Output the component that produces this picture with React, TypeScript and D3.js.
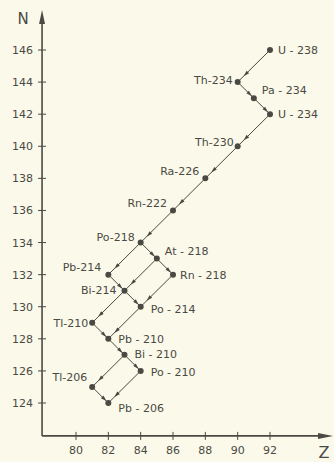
import * as d3 from "d3";

const W = 334;
const H = 462;

// nuclides of the U-238 decay series: [name, Z, N]
const names = ["U-238", "Th-234", "Pa-234", "U-234", "Th-230", "Ra-226", "Rn-222", "Po-218", "At-218", "Pb-214", "Rn-218", "Bi-214", "Po-214", "Tl-210", "Pb-210", "Bi-210", "Po-210", "Tl-206", "Pb-206"];
const zValues = [92, 90, 91, 92, 90, 88, 86, 84, 85, 82, 86, 83, 84, 81, 82, 83, 84, 81, 82];
const nValues = [146, 144, 143, 142, 140, 138, 136, 134, 133, 132, 132, 131, 130, 129, 128, 127, 126, 125, 124];

// decays: from -> to
const decays: [string, string][] = [
  ["U-238", "Th-234"], ["Th-234", "Pa-234"], ["Pa-234", "U-234"], ["U-234", "Th-230"],
  ["Th-230", "Ra-226"], ["Ra-226", "Rn-222"], ["Rn-222", "Po-218"], ["Po-218", "Pb-214"],
  ["Po-218", "At-218"], ["At-218", "Rn-218"], ["At-218", "Bi-214"], ["Rn-218", "Po-214"],
  ["Pb-214", "Bi-214"], ["Bi-214", "Po-214"], ["Bi-214", "Tl-210"], ["Po-214", "Pb-210"],
  ["Tl-210", "Pb-210"], ["Pb-210", "Bi-210"], ["Bi-210", "Po-210"], ["Bi-210", "Tl-206"],
  ["Po-210", "Pb-206"], ["Tl-206", "Pb-206"],
];

// label placement: side, dx, dy
const labelSide: { [k: string]: [string, number, number] } = {
  "U-238": ["r", 8, 4], "Th-234": ["l", -5, 2], "Pa-234": ["r", 8, -4], "U-234": ["r", 8, 4],
  "Th-230": ["l", -4, 0], "Ra-226": ["l", -6, -3], "Rn-222": ["l", -6, -3], "Po-218": ["l", -6, -2],
  "At-218": ["r", 8, -4], "Pb-214": ["l", -7, -4], "Rn-218": ["r", 7, 4], "Bi-214": ["l", -8, 3],
  "Po-214": ["r", 10, 6], "Tl-210": ["l", -4, 4], "Pb-210": ["r", 10, 4], "Bi-210": ["r", 10, 3],
  "Po-210": ["r", 10, 5], "Tl-206": ["l", -5, -6], "Pb-206": ["r", 10, 9],
};

const zTicks = [80, 82, 84, 86, 88, 90, 92];
const nTicks = [124, 126, 128, 130, 132, 134, 136, 138, 140, 142, 144, 146];

const INK = "#4a4a44";
const FONT = "'DejaVu Sans', sans-serif";

export default function App() {
  const x = d3.scaleLinear().domain([80, 92]).range([76, 270]);
  const y = d3.scaleLinear().domain([124, 146]).range([403, 50]);
  const x0 = x(77.9);
  const y0 = y(121.95);

  const pos: { [k: string]: [number, number] } = {};
  names.forEach((n, i) => (pos[n] = [x(zValues[i]), y(nValues[i])]));

  return (
    <svg
      width={W}
      height={H}
      style={{ position: "absolute", left: 0, top: 0, background: "#fbf9ea" }}
      fontFamily={FONT}
    >
      {/* axes */}
      <line x1={x0} x2={x0} y1={y0} y2={16} stroke={INK} strokeWidth={1.6} />
      <path d={`M${x0},10 L${x0 - 3},24 L${x0 + 3},24 Z`} fill={INK} />
      <line x1={x0} x2={326} y1={y0} y2={y0} stroke={INK} strokeWidth={1.6} />
      <path d={`M333,${y0} L318,${y0 - 3} L318,${y0 + 3} Z`} fill={INK} />
      <text x={23} y={24} fontSize={15} textAnchor="middle" fill={INK}>N</text>
      <text x={324} y={458} fontSize={16} textAnchor="middle" fill={INK}>Z</text>

      {nTicks.map((t) => (
        <g key={"n" + t}>
          <line x1={x0 - 4} x2={x0 + 4} y1={y(t)} y2={y(t)} stroke={INK} strokeWidth={1} />
          <text x={33} y={y(t) + 4} fontSize={11} textAnchor="end" fill={INK}>{t}</text>
        </g>
      ))}
      {zTicks.map((t) => (
        <g key={"z" + t}>
          <line x1={x(t)} x2={x(t)} y1={y0 - 4} y2={y0 + 4} stroke={INK} strokeWidth={1} />
          <text x={x(t)} y={y0 + 18} fontSize={11} textAnchor="middle" fill={INK}>{t}</text>
        </g>
      ))}

      {/* decay lines with small arrow marks */}
      {decays.map(([a, b], i) => {
        const [xa, ya] = pos[a];
        const [xb, yb] = pos[b];
        const ang = Math.atan2(yb - ya, xb - xa);
        const mx = xa + (xb - xa) * 0.75;
        const my = ya + (yb - ya) * 0.75;
        const deg = (ang * 180) / Math.PI;
        return (
          <g key={i}>
            <line x1={xa} y1={ya} x2={xb} y2={yb} stroke={INK} strokeWidth={1} />
            <path
              d="M3,0 L-3,-1.8 L-3,1.8 Z"
              fill={INK}
              transform={`translate(${mx},${my}) rotate(${deg})`}
            />
          </g>
        );
      })}

      {names.map((n) => {
        const [px, py] = pos[n];
        const [side, dx, dy] = labelSide[n];
        return (
          <g key={n}>
            <circle cx={px} cy={py} r={3} fill={INK} />
            <text
              x={px + dx}
              y={py + dy}
              fontSize={11}
              textAnchor={side === "l" ? "end" : "start"}
              fill={INK}
            >
              {side === "r" ? n.replace("-", " - ") : n}
            </text>
          </g>
        );
      })}
    </svg>
  );
}
